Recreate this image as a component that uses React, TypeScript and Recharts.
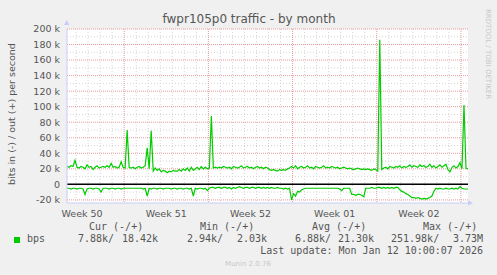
import React from 'react';
import { LineChart, Line, XAxis, YAxis, CartesianGrid, ReferenceLine } from 'recharts';

// bits per second, in k, sampled every 4 hours (x = hours since start of window)
const outValues = [
  23, 22, 24, 23, 31, 22, 21, 23, 22, 20,
  25, 22, 23, 19, 22, 24, 21, 22, 23, 22,
  24, 22, 27, 22, 23, 21, 22, 29, 22, 21,
  70, 22, 21, 22, 20, 22, 23, 21, 22, 24,
  47, 20, 69, 17, 21, 18, 20, 16, 18, 17,
  15, 17, 16, 18, 17, 17, 19, 17, 20, 18,
  21, 17, 22, 18, 20, 22, 19, 23, 20, 22,
  20, 21, 88, 21, 22, 21, 22, 21, 23, 22,
  21, 22, 20, 23, 22, 21, 22, 24, 21, 22,
  23, 21, 22, 20, 22, 23, 21, 22, 20, 22,
  21, 19, 18, 19, 18, 17, 19, 18, 19, 18,
  20, 21, 23, 21, 24, 20, 22, 23, 21, 22,
  24, 21, 22, 20, 23, 22, 21, 22, 24, 21,
  22, 21, 23, 22, 21, 22, 20, 21, 22, 21,
  20, 21, 20, 19, 20, 21, 20, 19, 20, 19,
  20, 19, 18, 20, 19, 17, 186, 19, 21, 22,
  20, 23, 22, 21, 23, 22, 24, 21, 23, 22,
  23, 25, 22, 24, 23, 22, 25, 23, 24, 22,
  23, 26, 22, 24, 21, 23, 25, 22, 24, 26,
  19, 16, 22, 24, 21, 23, 28, 20, 102, 21,
  20,
];

const inValues = [
  -5, -5, -6, -5, -5, -6, -5, -5, -6, -13,
  -6, -5, -5, -6, -5, -5, -6, -10, -5, -5,
  -5, -6, -5, -5, -6, -5, -5, -6, -5, -5,
  -5, -5, -5, -5, -5, -5, -5, -5, -6, -5,
  -15, -5, -6, -5, -5, -6, -5, -5, -6, -5,
  -5, -5, -6, -5, -5, -6, -5, -5, -6, -5,
  -5, -6, -5, -15, -5, -6, -5, -5, -6, -5,
  -8, -5, -4, -4, -5, -4, -4, -5, -4, -4,
  -5, -4, -6, -4, -5, -4, -3, -4, -5, -4,
  -4, -5, -4, -4, -5, -4, -4, -5, -4, -5,
  -4, -5, -4, -5, -5, -4, -5, -5, -6, -5,
  -6, -5, -20, -12, -15, -9, -10, -7, -6, -5,
  -5, -5, -5, -5, -5, -5, -5, -5, -5, -5,
  -5, -5, -5, -5, -5, -5, -6, -8, -5, -5,
  -5, -5, -13, -13, -14, -13, -13, -14, -16, -5,
  -5, -5, -4, -5, -5, -4, -4, -5, -4, -5,
  -4, -5, -4, -5, -4, -4, -7, -9, -10, -12,
  -13, -15, -17, -17, -18, -17, -18, -19, -18, -19,
  -18, -17, -15, -9, -5, -6, -5, -6, -6, -5,
  -6, -6, -5, -6, -5, -6, -3, -5, -6, -6,
  -6,
];

const sampleHours = 4;
const weekLabels = ['Week 50', 'Week 51', 'Week 52', 'Week 01', 'Week 02'];
const weekLabelHours = [30, 198, 366, 534, 702];
const weekBoundHours = [114, 282, 450, 618, 786];
const dayLineHours = [18, 42, 66, 90, 138, 162, 186, 210, 234, 258, 306, 330, 354, 378, 402, 426, 474, 498, 522, 546, 570, 594, 642, 666, 690, 714, 738, 762];
const yMajorTicks = [-20, 0, 20, 40, 60, 80, 100, 120, 140, 160, 180, 200];
const yMinorTicks = [-10, 10, 30, 50, 70, 90, 110, 130, 150, 170, 190];

const legendHeaders = ['Cur (-/+)', 'Min (-/+)', 'Avg (-/+)', 'Max (-/+)'];
const legendIn = ['7.88k/', '2.94k/', '6.88k/', '251.98k/'];
const legendOut = ['18.42k', '2.03k', '21.30k', '3.73M'];

const data = outValues.map((v, i) => ({ t: i * sampleHours, out: v, in: inValues[i] }));

const SANS = 'DejaVu Sans, sans-serif';
const MONO = 'DejaVu Sans Mono, monospace';
const TXT = '#555555';

export default function App() {
  const headerX = [89, 200, 312, 423];
  const inX = [78, 187, 295, 391];
  const outEndX = [158, 267, 374, 483];
  return (
    <div style={{ position: 'absolute', left: 0, top: 0, width: 497, height: 275, background: '#f0f0f0' }}>
      <LineChart width={497} height={275} data={data} margin={{ top: 29, right: 29, bottom: 52, left: 0 }}>
        <CartesianGrid
          fill="#ffffff"
          stroke="#d4d4d4"
          strokeDasharray="1 2"
          horizontalValues={yMinorTicks}
          verticalValues={dayLineHours}
        />
        <CartesianGrid
          stroke="#e89a9a"
          strokeDasharray="1 1"
          horizontalValues={yMajorTicks}
          verticalValues={weekBoundHours}
        />
        <XAxis
          dataKey="t"
          type="number"
          domain={[0, 800]}
          ticks={weekLabelHours}
          tickFormatter={(v: number) => weekLabels[weekLabelHours.indexOf(v)]}
          height={20}
          tickLine={false}
          tickSize={0}
          tickMargin={7}
          axisLine={{ stroke: '#c8ccf8' }}
          tick={{ fill: TXT, fontSize: 9.5, fontFamily: SANS }}
          interval={0}
        />
        <YAxis
          type="number"
          domain={[-24, 200]}
          ticks={yMajorTicks}
          tickFormatter={(v: number) => (v === 0 ? '0' : `${v} k`)}
          width={67}
          tickLine={false}
          tickSize={0}
          tickMargin={7}
          axisLine={{ stroke: '#c8ccf8' }}
          tick={{ fill: TXT, fontSize: 9.5, fontFamily: SANS }}
          interval={0}
          allowDataOverflow
        />
        <ReferenceLine y={0} stroke="#000000" strokeWidth={1.5} />
        <Line dataKey="out" stroke="#00cc00" strokeWidth={1.2} dot={false} isAnimationActive={false} />
        <Line dataKey="in" stroke="#00cc00" strokeWidth={1.2} dot={false} isAnimationActive={false} />
      </LineChart>
      <svg width={497} height={275} style={{ position: 'absolute', left: 0, top: 0, pointerEvents: 'none' }}>
        <polygon points="64,25 69.5,25 66.7,20" fill="#c8ccf8" />
        <polygon points="468,200.5 468,205.5 473,203" fill="#c8ccf8" />
        <text x={249} y={23} textAnchor="middle" fontFamily={SANS} fontSize={12} fill={TXT}>
          fwpr105p0 traffic - by month
        </text>
        <text
          transform="translate(15,114) rotate(-90)"
          textAnchor="middle"
          fontFamily={SANS}
          fontSize={9.5}
          fill={TXT}
        >
          bits in (-) / out (+) per second
        </text>
        <text
          transform="translate(486,54) rotate(90)"
          textAnchor="middle"
          fontFamily={SANS}
          fontSize={7}
          fill="#c8c8c8"
        >
          RRDTOOL / TOBI OETIKER
        </text>
        {legendHeaders.map((h, i) => (
          <text key={h} x={headerX[i]} y={230} fontFamily={MONO} fontSize={10} fill={TXT}>
            {h}
          </text>
        ))}
        <rect x={14} y={237} width={6} height={6} fill="#00cc00" />
        <text x={27} y={242} fontFamily={MONO} fontSize={10} fill={TXT}>bps</text>
        {legendIn.map((s, i) => (
          <text key={'in' + i} x={inX[i]} y={242} fontFamily={MONO} fontSize={10} fill={TXT}>
            {s}
          </text>
        ))}
        {legendOut.map((s, i) => (
          <text key={'out' + i} x={outEndX[i]} y={242} textAnchor="end" fontFamily={MONO} fontSize={10} fill={TXT}>
            {s}
          </text>
        ))}
        <text x={483} y={254} textAnchor="end" fontFamily={MONO} fontSize={10} fill={TXT}>
          Last update: Mon Jan 12 10:00:07 2026
        </text>
        <text x={248} y={266} textAnchor="middle" fontFamily={SANS} fontSize={7} fill="#c8c8c8">
          Munin 2.0.76
        </text>
      </svg>
    </div>
  );
}
